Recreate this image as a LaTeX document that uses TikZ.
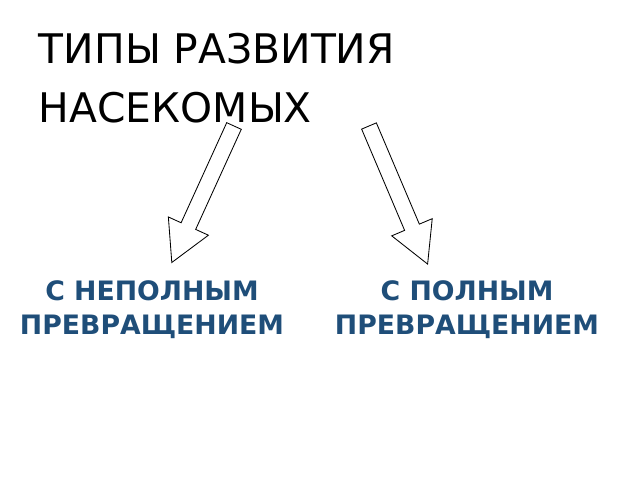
\documentclass[tikz,border=0pt]{standalone}
\usepackage{fontspec}
\setmainfont{DejaVu Sans}
\definecolor{labelblue}{HTML}{1F4E79}
\tikzset{
  blockarrow/.style={draw=black, fill=white, line width=0.6pt, line join=miter},
  kind/.style={text=labelblue, font=\fontsize{19}{24}\selectfont\bfseries, align=center}
}
\newcommand{\hollowarrow}[3]{%
  \begin{scope}[shift={#1}, rotate=#2]
    \draw[blockarrow] (0,-8) -- (#3-40,-8) -- (#3-40,-22) -- (#3,0) -- (#3-40,22) -- (#3-40,8) -- (0,8) -- cycle;
  \end{scope}}
\begin{document}
\begin{tikzpicture}[x=0.025cm, y=0.025cm]
  \useasboundingbox (0,0) rectangle (640,480);
  % title
  \node[anchor=north west, align=left, font=\fontsize{29}{42}\selectfont] (title) at (34,452)
    {ТИПЫ РАЗВИТИЯ\\НАСЕКОМЫХ};
  % arrows
  \hollowarrow{(234,354)}{-114.5}{150}
  \hollowarrow{(369,354)}{-67}{150}
  % kinds of development
  \node[kind] (partial) at (152,170) {С НЕПОЛНЫМ\\ПРЕВРАЩЕНИЕМ};
  \node[kind] (complete) at (467,170) {С ПОЛНЫМ\\ПРЕВРАЩЕНИЕМ};
\end{tikzpicture}
\end{document}
